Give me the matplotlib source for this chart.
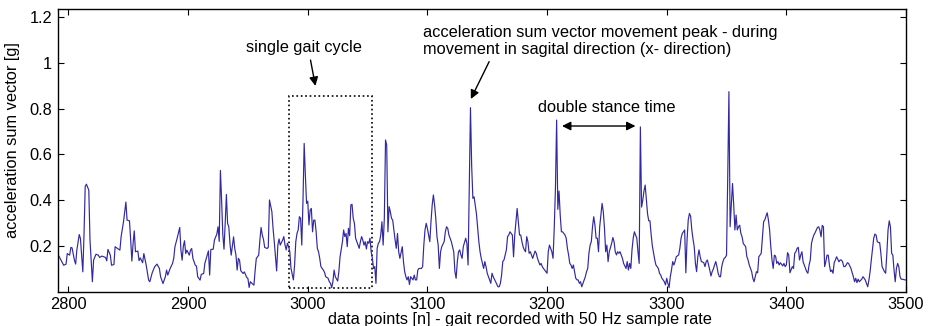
import matplotlib
matplotlib.use("Agg")
import matplotlib.pyplot as plt
from matplotlib.patches import Rectangle

plt.rcParams['font.family'] = ['Liberation Sans', 'DejaVu Sans']

# sample index (data points) and acceleration sum vector [g]
sample_idx = [
    2791, 2792, 2796, 2798, 2799, 2801, 2802, 2803, 2805, 2806, 2807, 2809, 2810, 2812, 2813, 2814, 2815, 2817, 2818,
    2820, 2821, 2823, 2825, 2826, 2828, 2831, 2832, 2833, 2835, 2836, 2838, 2839, 2841, 2843, 2844, 2846, 2848, 2849,
    2851, 2852, 2853, 2854, 2855, 2856, 2858, 2859, 2860, 2862, 2863, 2865, 2867, 2868, 2870, 2872, 2874, 2876, 2877,
    2879, 2881, 2882, 2883, 2885, 2887, 2888, 2889, 2891, 2893, 2894, 2895, 2896, 2897, 2898, 2899, 2901, 2902, 2903,
    2904, 2906, 2907, 2908, 2910, 2911, 2913, 2914, 2916, 2917, 2918, 2919, 2921, 2922, 2924, 2925, 2926, 2927, 2928,
    2929, 2930, 2931, 2932, 2933, 2934, 2935, 2936, 2938, 2939, 2940, 2941, 2942, 2943, 2944, 2946, 2947, 2949, 2950,
    2951, 2952, 2953, 2955, 2956, 2957, 2959, 2960, 2961, 2962, 2963, 2964, 2966, 2967, 2968, 2970, 2971, 2972, 2974,
    2975, 2976, 2977, 2979, 2980, 2981, 2982, 2983, 2984, 2985, 2986, 2988, 2989, 2990, 2991, 2992, 2993, 2994, 2995,
    2996, 2997, 2998, 2999, 3000, 3001, 3002, 3003, 3004, 3005, 3006, 3007, 3008, 3009, 3010, 3011, 3013, 3014, 3015,
    3017, 3018, 3019, 3020, 3021, 3022, 3023, 3025, 3026, 3027, 3029, 3030, 3031, 3032, 3033, 3034, 3035, 3036, 3037,
    3038, 3039, 3040, 3041, 3043, 3044, 3045, 3046, 3047, 3048, 3049, 3050, 3051, 3052, 3053, 3054, 3055, 3056, 3057,
    3058, 3059, 3060, 3061, 3062, 3063, 3064, 3065, 3066, 3067, 3068, 3069, 3070, 3071, 3072, 3073, 3074, 3075, 3076,
    3077, 3079, 3080, 3081, 3082, 3083, 3084, 3085, 3086, 3088, 3089, 3090, 3091, 3092, 3093, 3095, 3096, 3097, 3098,
    3099, 3100, 3102, 3103, 3104, 3105, 3106, 3107, 3108, 3109, 3110, 3111, 3112, 3114, 3115, 3116, 3117, 3118, 3119,
    3120, 3122, 3123, 3124, 3125, 3126, 3127, 3128, 3129, 3130, 3132, 3133, 3134, 3135, 3136, 3137, 3138, 3139, 3140,
    3141, 3142, 3143, 3144, 3145, 3147, 3148, 3149, 3150, 3151, 3152, 3153, 3154, 3155, 3157, 3158, 3159, 3160, 3161,
    3162, 3163, 3164, 3166, 3167, 3168, 3169, 3170, 3171, 3172, 3173, 3174, 3175, 3176, 3177, 3178, 3179, 3180, 3181,
    3182, 3183, 3184, 3185, 3186, 3187, 3188, 3190, 3191, 3192, 3193, 3194, 3195, 3196, 3197, 3199, 3200, 3201, 3202,
    3203, 3204, 3205, 3206, 3207, 3208, 3209, 3210, 3211, 3212, 3213, 3214, 3215, 3216, 3217, 3218, 3219, 3220, 3221,
    3222, 3224, 3225, 3226, 3227, 3228, 3229, 3230, 3232, 3233, 3234, 3235, 3236, 3237, 3238, 3239, 3240, 3241, 3242,
    3243, 3244, 3245, 3246, 3247, 3248, 3249, 3250, 3251, 3252, 3254, 3255, 3256, 3257, 3258, 3259, 3260, 3261, 3262,
    3263, 3264, 3266, 3267, 3268, 3269, 3270, 3271, 3272, 3273, 3275, 3276, 3277, 3278, 3279, 3280, 3281, 3282, 3283,
    3284, 3285, 3286, 3287, 3288, 3289, 3290, 3291, 3292, 3293, 3294, 3295, 3296, 3297, 3298, 3299, 3300, 3301, 3302,
    3303, 3304, 3305, 3306, 3307, 3308, 3310, 3311, 3312, 3313, 3314, 3315, 3316, 3317, 3318, 3319, 3320, 3321, 3322,
    3323, 3324, 3325, 3326, 3327, 3328, 3329, 3330, 3331, 3332, 3333, 3334, 3335, 3336, 3337, 3338, 3339, 3340, 3341,
    3342, 3343, 3344, 3345, 3346, 3347, 3348, 3349, 3350, 3351, 3352, 3353, 3354, 3355, 3356, 3357, 3358, 3359, 3360,
    3361, 3362, 3363, 3364, 3365, 3366, 3367, 3368, 3369, 3371, 3372, 3373, 3374, 3375, 3376, 3377, 3379, 3380, 3381,
    3382, 3383, 3384, 3385, 3386, 3387, 3388, 3389, 3390, 3391, 3392, 3393, 3394, 3395, 3397, 3398, 3399, 3400, 3401,
    3402, 3403, 3405, 3406, 3407, 3408, 3409, 3410, 3411, 3412, 3413, 3414, 3416, 3417, 3418, 3419, 3420, 3421, 3422,
    3423, 3424, 3426, 3427, 3428, 3429, 3430, 3431, 3432, 3433, 3434, 3435, 3436, 3437, 3438, 3439, 3440, 3441, 3442,
    3444, 3445, 3446, 3447, 3448, 3449, 3450, 3451, 3452, 3454, 3455, 3456, 3457, 3458, 3459, 3460, 3461, 3463, 3464,
    3465, 3466, 3467, 3468, 3469, 3470, 3471, 3473, 3474, 3475, 3476, 3477, 3478, 3479, 3480, 3482, 3483, 3484, 3485,
    3486, 3487, 3488, 3489, 3490, 3491, 3492, 3493, 3494, 3495, 3496, 3497, 3499, 3500,
]
acc_sum = [
    0.160, 0.156, 0.116, 0.121, 0.167, 0.160, 0.194, 0.192, 0.138, 0.121, 0.182, 0.250, 0.233, 0.087, 0.250, 0.460, 0.470, 0.444, 0.226,
    0.044, 0.138, 0.164, 0.160, 0.150, 0.156, 0.150, 0.135, 0.185, 0.160, 0.116, 0.119, 0.197, 0.189, 0.182, 0.240, 0.306, 0.392, 0.313,
    0.310, 0.226, 0.134, 0.211, 0.266, 0.175, 0.178, 0.136, 0.148, 0.127, 0.167, 0.116, 0.051, 0.044, 0.083, 0.109, 0.121, 0.102, 0.066,
    0.036, 0.066, 0.095, 0.073, 0.102, 0.124, 0.146, 0.197, 0.237, 0.281, 0.182, 0.138, 0.199, 0.223, 0.167, 0.182, 0.160, 0.182, 0.189,
    0.146, 0.116, 0.112, 0.066, 0.051, 0.076, 0.080, 0.124, 0.160, 0.179, 0.073, 0.185, 0.186, 0.226, 0.252, 0.284, 0.220, 0.530, 0.400,
    0.250, 0.186, 0.300, 0.425, 0.299, 0.284, 0.211, 0.160, 0.240, 0.189, 0.160, 0.095, 0.146, 0.138, 0.092, 0.080, 0.087, 0.063, 0.058,
    0.019, 0.044, 0.039, 0.029, 0.092, 0.146, 0.160, 0.226, 0.281, 0.248, 0.229, 0.194, 0.189, 0.194, 0.401, 0.350, 0.277, 0.219, 0.091,
    0.204, 0.231, 0.204, 0.226, 0.241, 0.204, 0.183, 0.212, 0.197, 0.175, 0.102, 0.052, 0.117, 0.219, 0.255, 0.270, 0.328, 0.321, 0.204,
    0.394, 0.648, 0.510, 0.386, 0.396, 0.292, 0.357, 0.364, 0.262, 0.313, 0.313, 0.262, 0.190, 0.175, 0.146, 0.110, 0.095, 0.085, 0.066,
    0.059, 0.044, 0.037, 0.018, 0.044, 0.095, 0.066, 0.047, 0.088, 0.153, 0.219, 0.270, 0.241, 0.255, 0.197, 0.277, 0.245, 0.379, 0.382,
    0.321, 0.299, 0.234, 0.219, 0.190, 0.219, 0.241, 0.226, 0.204, 0.219, 0.187, 0.219, 0.212, 0.234, 0.175, 0.146, 0.102, 0.110, 0.037,
    0.190, 0.212, 0.219, 0.248, 0.306, 0.204, 0.321, 0.663, 0.640, 0.262, 0.372, 0.350, 0.321, 0.313, 0.270, 0.226, 0.190, 0.255, 0.175,
    0.146, 0.197, 0.132, 0.088, 0.066, 0.052, 0.066, 0.032, 0.066, 0.052, 0.073, 0.052, 0.052, 0.095, 0.102, 0.102, 0.110, 0.204, 0.270,
    0.299, 0.277, 0.219, 0.306, 0.379, 0.423, 0.379, 0.321, 0.241, 0.204, 0.102, 0.175, 0.197, 0.219, 0.262, 0.284, 0.277, 0.248, 0.234,
    0.219, 0.175, 0.088, 0.059, 0.132, 0.175, 0.183, 0.161, 0.146, 0.197, 0.234, 0.212, 0.117, 0.450, 0.804, 0.550, 0.408, 0.415, 0.379,
    0.340, 0.277, 0.219, 0.175, 0.146, 0.102, 0.132, 0.110, 0.081, 0.066, 0.052, 0.037, 0.081, 0.066, 0.044, 0.032, 0.022, 0.022, 0.037,
    0.073, 0.132, 0.139, 0.183, 0.241, 0.248, 0.262, 0.255, 0.248, 0.153, 0.248, 0.306, 0.364, 0.306, 0.248, 0.248, 0.219, 0.197, 0.183,
    0.175, 0.241, 0.219, 0.168, 0.175, 0.161, 0.146, 0.178, 0.168, 0.146, 0.132, 0.117, 0.124, 0.110, 0.102, 0.088, 0.081, 0.175, 0.204,
    0.190, 0.175, 0.146, 0.277, 0.450, 0.750, 0.360, 0.440, 0.335, 0.262, 0.262, 0.255, 0.248, 0.234, 0.190, 0.161, 0.124, 0.117, 0.102,
    0.117, 0.059, 0.052, 0.052, 0.037, 0.044, 0.022, 0.037, 0.066, 0.088, 0.102, 0.168, 0.204, 0.219, 0.284, 0.328, 0.292, 0.234, 0.234,
    0.175, 0.284, 0.335, 0.386, 0.350, 0.277, 0.175, 0.204, 0.132, 0.175, 0.212, 0.237, 0.219, 0.175, 0.161, 0.175, 0.168, 0.175, 0.161,
    0.146, 0.124, 0.102, 0.132, 0.095, 0.124, 0.102, 0.183, 0.234, 0.262, 0.234, 0.175, 0.124, 0.720, 0.370, 0.400, 0.440, 0.466, 0.400,
    0.340, 0.310, 0.310, 0.250, 0.200, 0.170, 0.140, 0.117, 0.110, 0.102, 0.081, 0.073, 0.059, 0.052, 0.044, 0.030, 0.059, 0.037, 0.018,
    0.066, 0.095, 0.132, 0.117, 0.132, 0.153, 0.161, 0.190, 0.234, 0.255, 0.262, 0.270, 0.083, 0.226, 0.314, 0.342, 0.330, 0.270, 0.230,
    0.197, 0.124, 0.088, 0.153, 0.183, 0.153, 0.132, 0.130, 0.127, 0.110, 0.132, 0.139, 0.117, 0.095, 0.069, 0.088, 0.100, 0.117, 0.132,
    0.110, 0.081, 0.066, 0.066, 0.110, 0.132, 0.146, 0.150, 0.160, 0.500, 0.874, 0.284, 0.380, 0.473, 0.380, 0.270, 0.335, 0.270, 0.284,
    0.291, 0.255, 0.240, 0.211, 0.204, 0.197, 0.153, 0.139, 0.117, 0.088, 0.059, 0.044, 0.066, 0.088, 0.083, 0.153, 0.168, 0.240, 0.306,
    0.314, 0.331, 0.345, 0.314, 0.270, 0.197, 0.139, 0.102, 0.160, 0.156, 0.124, 0.132, 0.117, 0.127, 0.113, 0.124, 0.110, 0.117, 0.171,
    0.160, 0.083, 0.110, 0.102, 0.168, 0.175, 0.190, 0.194, 0.139, 0.160, 0.175, 0.131, 0.102, 0.088, 0.081, 0.117, 0.139, 0.211, 0.233,
    0.248, 0.258, 0.281, 0.284, 0.270, 0.240, 0.290, 0.284, 0.110, 0.131, 0.160, 0.160, 0.117, 0.088, 0.095, 0.081, 0.127, 0.139, 0.153,
    0.131, 0.139, 0.139, 0.131, 0.110, 0.110, 0.117, 0.127, 0.124, 0.102, 0.083, 0.066, 0.044, 0.059, 0.040, 0.055, 0.044, 0.055, 0.066,
    0.059, 0.051, 0.037, 0.022, 0.051, 0.088, 0.139, 0.233, 0.252, 0.248, 0.219, 0.215, 0.215, 0.168, 0.110, 0.088, 0.081, 0.168, 0.270,
    0.310, 0.284, 0.168, 0.160, 0.095, 0.044, 0.102, 0.124, 0.110, 0.066, 0.055, 0.055, 0.052, 0.052,
]

x_ticks = [2800, 2900, 3000, 3100, 3200, 3300, 3400, 3500]
y_ticks = [0.2, 0.4, 0.6, 0.8, 1.0, 1.2]
y_tick_labels = ["0.2", "0.4", "0.6", "0.8", "1", "1.2"]

FS = 11.8

fig = plt.figure(figsize=(9.32, 3.26), dpi=100)
ax = fig.add_axes([0.0619, 0.1049, 0.9102, 0.8675])

ax.plot(sample_idx, acc_sum, color='#3129a0', lw=0.85)

ax.set_xlim(2791, 3500)
ax.set_ylim(0, 1.235)
ax.set_xticks(x_ticks)
ax.set_yticks(y_ticks)
ax.set_yticklabels(y_tick_labels)
ax.tick_params(direction='in', top=True, right=True, length=4, width=0.8,
               labelsize=FS, pad=4)
for sp in ax.spines.values():
    sp.set_linewidth(1.0)

ax.set_xlabel("data points [n] - gait recorded with 50 Hz sample rate", fontsize=FS)
ax.set_ylabel("acceleration sum vector [g]", fontsize=FS)
ax.xaxis.set_label_coords(0.545, -0.072)
ax.yaxis.set_label_coords(-0.044, 0.535)

# dotted box marking one gait cycle
ax.add_patch(Rectangle((2984.1, 0.015), 3053.9 - 2984.1, 0.856 - 0.015,
                       fill=False, ls=':', lw=1.2, ec='black'))

arrow = dict(arrowstyle='-|>', color='black', lw=1.0, mutation_scale=13, shrinkA=0, shrinkB=0)
ax.text(2997.2, 1.065, "single gait cycle", ha='center', va='center', fontsize=FS)
ax.annotate("", xy=(3006.4, 0.899), xytext=(3002.3, 1.012), arrowprops=arrow)

ax.text(3096.6, 1.094,
        "acceleration sum vector movement peak - during\nmovement in sagital direction (x- direction)",
        ha='left', va='center', fontsize=FS, linespacing=1.18)
ax.annotate("", xy=(3136.3, 0.842), xytext=(3151.6, 1.005), arrowprops=arrow)

ax.text(3250.2, 0.803, "double stance time", ha='center', va='center', fontsize=FS)
ax.annotate("", xy=(3273.9, 0.724), xytext=(3212.5, 0.724),
            arrowprops=dict(arrowstyle='<|-|>', color='black', lw=1.0, mutation_scale=13,
                            shrinkA=0, shrinkB=0))

fig.savefig("out.png", dpi=100)
